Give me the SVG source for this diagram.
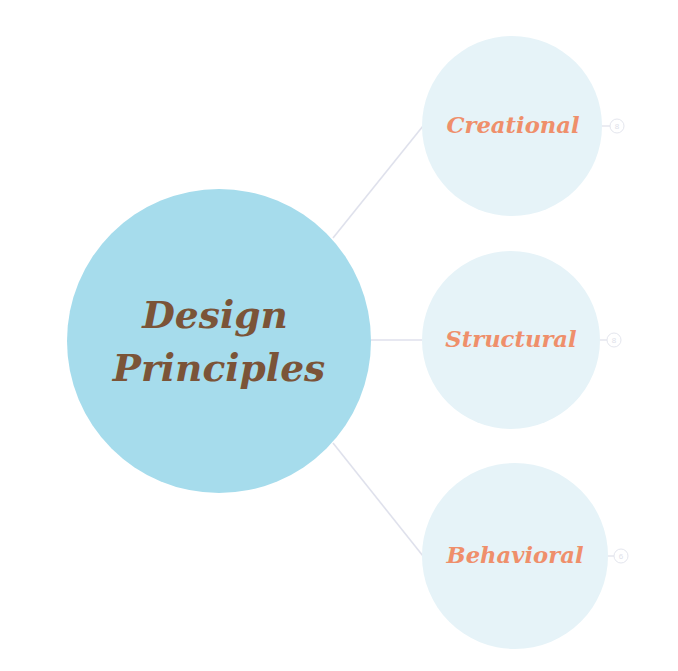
<svg xmlns="http://www.w3.org/2000/svg" width="678" height="671" viewBox="0 0 678 671">
<style>
.conn{stroke:#dfe1ec;stroke-width:1.6;fill:none}
.main{fill:#a6dcec}
.sub{fill:#e6f3f8}
.t{font-family:"DejaVu Serif",Georgia,serif;font-weight:bold;font-style:italic;text-anchor:middle}
.mt{fill:#7b5438;font-size:37.6px}
.st{fill:#ef8f6b;font-size:22.7px}
.badge{fill:#fff;stroke:#e4e6ee;stroke-width:1}
.bt{font-family:"Liberation Sans",Arial,sans-serif;font-size:8px;fill:#e0e2ea;text-anchor:middle}
.bl{stroke:#e4e6ee;stroke-width:1.5}
</style>
<rect width="678" height="671" fill="#fff"/>
<g id="connectors">
<line class="conn" x1="333" y1="238" x2="423" y2="126"/>
<line class="conn" x1="371" y1="340" x2="423" y2="340"/>
<line class="conn" x1="333" y1="443" x2="423" y2="556"/>
</g>
<g id="design-principles">
<circle class="main" cx="219" cy="341" r="152"/>
<text class="t mt" x="215" y="328">Design</text>
<text class="t mt" x="219" y="381">Principles</text>
</g>
<g id="creational">
<circle class="sub" cx="512" cy="126" r="90"/>
<text class="t st" x="513" y="133">Creational</text>
<line class="bl" x1="602" y1="126" x2="610" y2="126"/>
<circle class="badge" cx="617" cy="126" r="7"/>
<text class="bt" x="617" y="129">8</text>
</g>
<g id="structural">
<circle class="sub" cx="511" cy="340" r="89"/>
<text class="t st" x="511" y="347">Structural</text>
<line class="bl" x1="600" y1="340" x2="607" y2="340"/>
<circle class="badge" cx="614" cy="340" r="7"/>
<text class="bt" x="614" y="343">8</text>
</g>
<g id="behavioral">
<circle class="sub" cx="515" cy="556" r="93"/>
<text class="t st" x="515" y="563">Behavioral</text>
<line class="bl" x1="608" y1="556" x2="614" y2="556"/>
<circle class="badge" cx="621" cy="556" r="7"/>
<text class="bt" x="621" y="559">6</text>
</g>
</svg>
